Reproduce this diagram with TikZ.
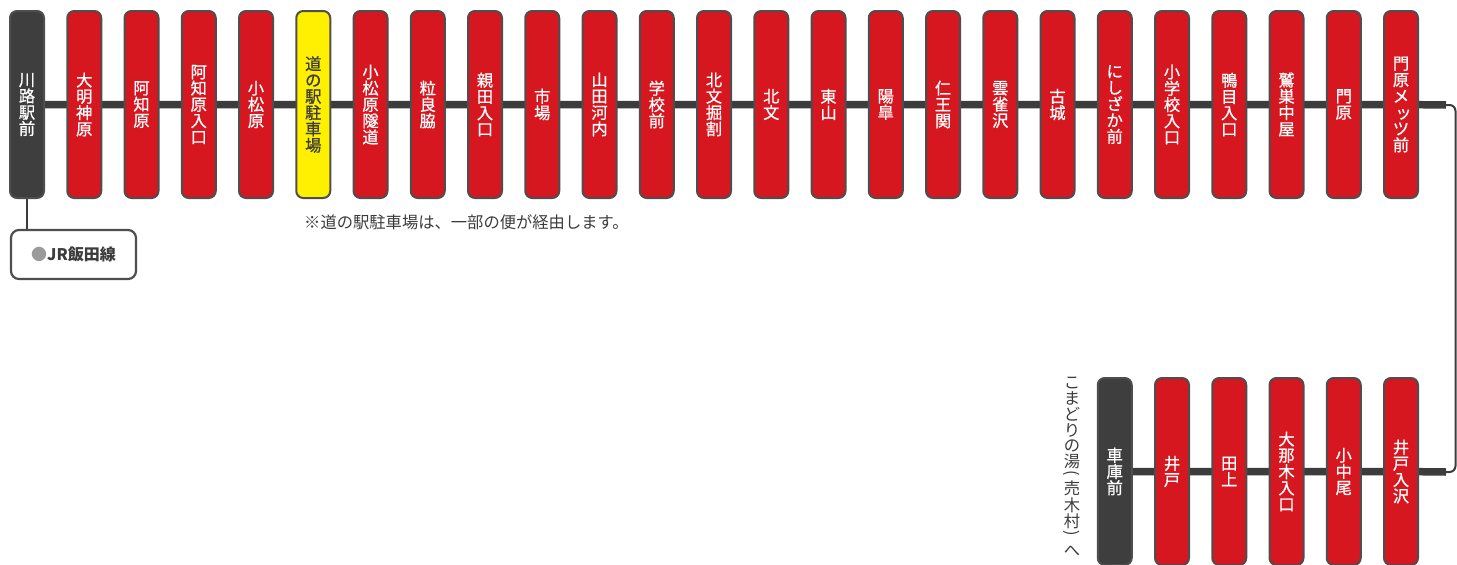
\documentclass[tikz,border=0pt]{standalone}
\usepackage{graphicx}
\usepackage{fontspec}
\newfontfamily\jp{Noto Sans CJK JP}
\newfontfamily\jpstn{Noto Sans CJK JP}[FakeBold=0.7]
\usetikzlibrary{backgrounds}
\definecolor{stred}{RGB}{214,23,32}
\definecolor{stdark}{RGB}{62,62,62}
\definecolor{stborder}{RGB}{78,78,78}
\definecolor{styellow}{RGB}{255,240,0}
\definecolor{routegray}{RGB}{60,60,60}
\definecolor{jrgray}{RGB}{155,155,155}
\definecolor{txtdark}{RGB}{60,60,60}
\newcommand{\vparen}[1]{\rotatebox[origin=c]{-90}{#1}}
\begin{document}
\begin{tikzpicture}[x=1pt,y=-1pt,
  stn/.style={draw=stborder, line width=2pt, rounded corners=7pt,
    minimum width=34pt, minimum height=187pt, inner sep=0pt, align=center,
    font=\jpstn\fontsize{16.3}{16.3}\selectfont, text=white, fill=stred},
  stndark/.style={stn, fill=stdark},
  stnyellow/.style={stn, fill=styellow, text=txtdark},
  route/.style={draw=routegray, line width=7.5pt},
  thinroute/.style={draw=routegray, line width=2pt},
  jrbox/.style={draw=stborder, line width=2.2pt, rounded corners=8pt, fill=white,
    minimum width=125pt, minimum height=49pt, inner sep=0pt},
  plaintext/.style={font=\jp\fontsize{16.3}{16.4}\selectfont, text=txtdark, inner sep=0pt, align=center}
]
\useasboundingbox (0,0) rectangle (1457,565);
\clip (0,0) rectangle (1457,565);

% top row
\node[stndark]   (t1)  at (27,104.5)     {川\\路\\駅\\前};
\node[stn]       (t2)  at (84.25,104.5)  {大\\明\\神\\原};
\node[stn]       (t3)  at (141.5,104.5)  {阿\\知\\原};
\node[stn]       (t4)  at (198.75,104.5) {阿\\知\\原\\入\\口};
\node[stn]       (t5)  at (256,104.5)    {小\\松\\原};
\node[stnyellow] (t6)  at (313.25,104.5) {道\\の\\駅\\駐\\車\\場};
\node[stn]       (t7)  at (370.5,104.5)  {小\\松\\原\\隧\\道};
\node[stn]       (t8)  at (427.75,104.5) {粒\\良\\脇};
\node[stn]       (t9)  at (485,104.5)    {親\\田\\入\\口};
\node[stn]       (t10) at (542.25,104.5) {市\\場};
\node[stn]       (t11) at (599.5,104.5)  {山\\田\\河\\内};
\node[stn]       (t12) at (656.75,104.5) {学\\校\\前};
\node[stn]       (t13) at (714,104.5)    {北\\文\\掘\\割};
\node[stn]       (t14) at (771.25,104.5) {北\\文};
\node[stn]       (t15) at (828.5,104.5)  {東\\山};
\node[stn]       (t16) at (885.75,104.5) {陽\\皐};
\node[stn]       (t17) at (943,104.5)    {仁\\王\\関};
\node[stn]       (t18) at (1000.25,104.5){雲\\雀\\沢};
\node[stn]       (t19) at (1057.5,104.5) {古\\城};
\node[stn]       (t20) at (1114.75,104.5){に\\し\\ざ\\か\\前};
\node[stn]       (t21) at (1172,104.5)   {小\\学\\校\\入\\口};
\node[stn]       (t22) at (1229.25,104.5){鴨\\目\\入\\口};
\node[stn]       (t23) at (1286.5,104.5) {鷲\\巣\\中\\屋};
\node[stn]       (t24) at (1343.75,104.5){門\\原};
\node[stn]       (t25) at (1401,104.5)   {門\\原\\メ\\\hspace*{5pt}ッ\\ツ\\前};

% bottom row
\node[stndark]   (b1) at (1114.75,471.5) {車\\庫\\前};
\node[stn]       (b2) at (1172,471.5)    {井\\戸};
\node[stn]       (b3) at (1229.25,471.5) {田\\上};
\node[stn]       (b4) at (1286.5,471.5)  {大\\那\\木\\入\\口};
\node[stn]       (b5) at (1343.75,471.5) {小\\中\\尾};
\node[stn]       (b6) at (1401,471.5)    {井\\戸\\入\\沢};

% corner points of the route
\coordinate (tr) at (1446,105);
\coordinate (br) at (1446,472);

% JR box
\node[jrbox] (jr) at (73.5,254.5) {};
\node[font=\jp\bfseries\fontsize{16}{16}\selectfont, text=txtdark, inner sep=0pt] (jrlabel) at (jr.center) {\textcolor{jrgray}{●}JR飯田線};

% notes
\node[plaintext, anchor=west] (note) at (304,222) {※道の駅駐車場は、一部の便が経由します。};
\node[plaintext, font=\jp\fontsize{16.3}{15.8}\selectfont, anchor=north] (dest) at (1072,377)
  {こ\\ま\\ど\\り\\の\\湯\\[-4.8pt]\vparen{(}\\[0.2pt]売\\[0.7pt]木\\[0.7pt]村\\[-4.8pt]\vparen{)}\\[2.2pt]へ};

\begin{scope}[on background layer]
  \draw[route] (t1.center) -- (t25.center) -- (tr);
  \draw[route] (b1.center) -- (b6.center) -- (br);
  \draw[thinroute, rounded corners=6pt] (1440,105) -- (1455.5,105) -- (1455.5,472) -- (1440,472);
  \draw[thinroute] (t1.south) -- (t1.south |- jr.north);
\end{scope}
\end{tikzpicture}
\end{document}
